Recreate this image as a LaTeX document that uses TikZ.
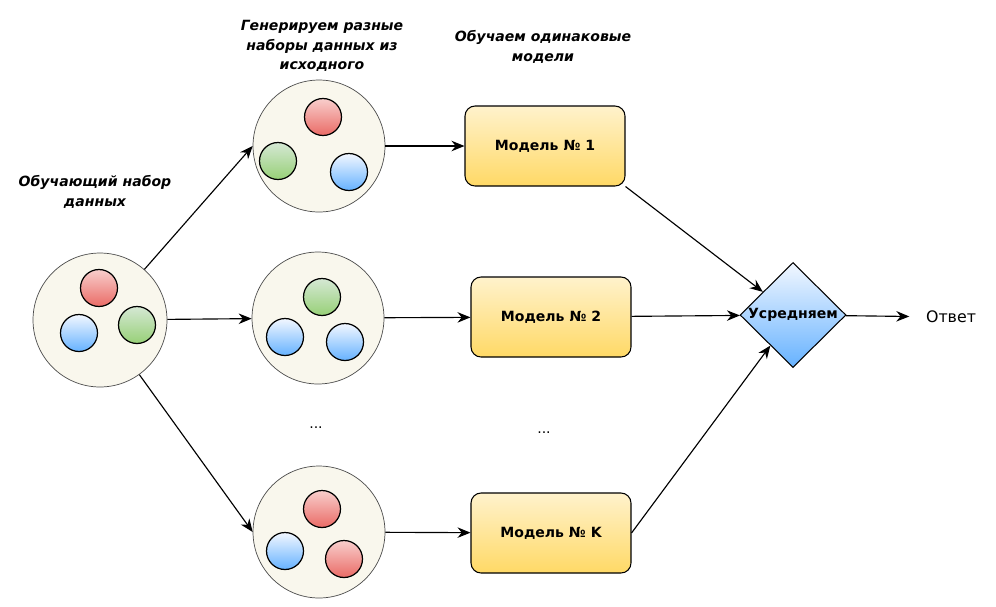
\documentclass[tikz,border=0pt]{standalone}
\usepackage{fontspec}
\setmainfont{DejaVu Sans}
\usepackage{xcolor}
\usetikzlibrary{arrows.meta,shapes.geometric}

\definecolor{setfill}{HTML}{F9F7ED}
\definecolor{redtop}{HTML}{F8CECC}
\definecolor{redbot}{HTML}{EA6B66}
\definecolor{greentop}{HTML}{D5E8D4}
\definecolor{greenbot}{HTML}{97D077}
\definecolor{bluetop}{HTML}{F2F7FF}
\definecolor{bluebot}{HTML}{66B2FF}
\definecolor{yeltop}{HTML}{FFF2CC}
\definecolor{yelbot}{HTML}{FFD966}

\begin{document}
\begin{tikzpicture}[
    x=0.02cm, y=-0.02cm,
    font=\fontsize{8}{11}\selectfont,
    set/.style={circle, draw=black!70, fill=setfill, minimum size=2.64cm, inner sep=0pt},
    ball/.style={circle, draw, line width=0.7pt, minimum size=0.74cm, inner sep=0pt},
    rball/.style={ball, top color=redtop, bottom color=redbot},
    gball/.style={ball, top color=greentop, bottom color=greenbot},
    bball/.style={ball, top color=bluetop, bottom color=bluebot},
    model/.style={draw, line width=0.6pt, rounded corners=0.2cm, minimum width=3.2cm,
      minimum height=1.6cm, top color=yeltop, bottom color=yelbot, font=\fontsize{8}{11}\selectfont\bfseries},
    avg/.style={diamond, draw, line width=0.6pt, minimum width=2.12cm, minimum height=2.1cm,
      inner sep=0pt, top color=bluetop, bottom color=bluebot, font=\fontsize{8}{11}\selectfont\bfseries},
    lbl/.style={align=center, font=\fontsize{8}{11}\selectfont\bfseries\itshape},
    ar/.style={-{Stealth[length=2.6mm, width=2.1mm]}, line width=0.65pt},
  ]
    \useasboundingbox (0,0) rectangle (996,606);
    % Source data set
    \node[set, minimum size=2.68cm] (src) at (100,320) {};
    \node[rball] (s0r) at (99,288)  {};
    \node[bball] (s0b) at (79,333)  {};
    \node[gball] (s0g) at (137,325) {};
    \node[lbl]   (srclbl) at (95,192) {Обучающий набор\\данных};
    % Generated data sets
    \node[set]   (set1) at (319,146) {};
    \node[rball] (s1r)  at (323,117) {};
    \node[gball] (s1g)  at (278,161) {};
    \node[bball] (s1b)  at (349,172) {};
    \node[set]   (set2) at (318,318) {};
    \node[gball] (s2g)  at (322,297) {};
    \node[bball] (s2b)  at (285,337) {};
    \node[bball] (s2c)  at (345,342) {};
    \node[set]   (set3) at (319,532) {};
    \node[rball] (s3r)  at (322,509) {};
    \node[bball] (s3b)  at (285,551) {};
    \node[rball] (s3c)  at (344,559) {};
    \node[lbl]   (setlbl) at (322,46) {Генерируем разные\\наборы данных из\\исходного};
    \node        (dots1)  at (316,428) {...};
    % Models
    \node[model] (m1) at (545,146) {Модель № 1};
    \node[model] (m2) at (551,317) {Модель № 2};
    \node[model] (mk) at (551,533) {Модель № K};
    \node[lbl]   (mlbl)  at (543,47) {Обучаем одинаковые\\модели};
    \node        (dots2) at (544,433) {...};
    % Averaging and answer
    \node[avg] (avg) at (793,315) {Усредняем};
    \node[font=\fontsize{9}{11}\selectfont] (ans) at (951,317) {Ответ};
    % Arrows
    \draw[ar] (src) -- (set1.west);
    \draw[ar] (src) -- (set2);
    \draw[ar] (src) -- (set3.west);
    \draw[ar] (set1) -- (m1);
    \draw[ar] (set2) -- (m2);
    \draw[ar] (set3) -- (mk);
    \draw[ar] (m1.south east) -- (avg);
    \draw[ar] (m2) -- (avg);
    \draw[ar] (mk.east) -- (avg);
    \draw[ar, shorten >=6pt] (avg) -- (ans);
  \end{tikzpicture}
\end{document}
